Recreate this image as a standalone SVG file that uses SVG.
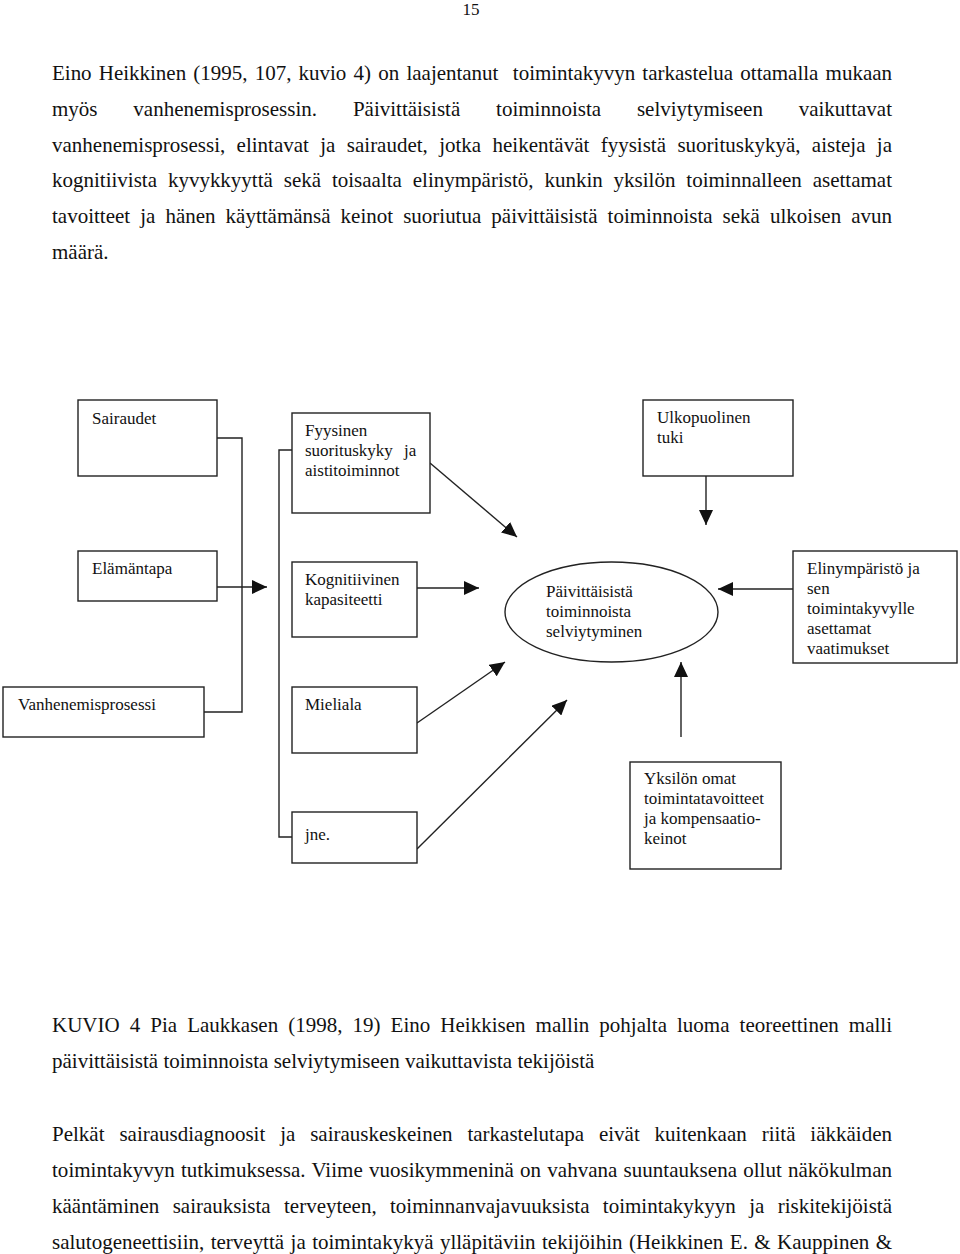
<svg xmlns="http://www.w3.org/2000/svg" width="960" height="1254" viewBox="0 0 960 1254">
<defs>
<style>
.body{font-family:"Liberation Serif","Times New Roman",serif;font-size:21px;fill:#111}
.lbl{font-family:"Liberation Serif","Times New Roman",serif;font-size:17px;fill:#111}
.box{fill:#fff;stroke:#222;stroke-width:1.4}
.ln{fill:none;stroke:#222;stroke-width:1.4}
</style>
<marker id="ah" markerUnits="userSpaceOnUse" markerWidth="15" markerHeight="14" refX="15" refY="7" orient="auto">
<path d="M0,0 L15,7 L0,14 z" fill="#111"/>
</marker>
</defs>
<rect width="960" height="1254" fill="#fff"/>

<text class="body" x="471" y="15" text-anchor="middle" style="font-size:17px">15</text>

<g id="intro">
<text class="body" x="52" y="80" textLength="840" lengthAdjust="spacing" word-spacing="2" xml:space="preserve">Eino Heikkinen (1995, 107, kuvio 4) on laajentanut  toimintakyvyn tarkastelua ottamalla mukaan</text>
<text class="body" x="52" y="116" textLength="840" lengthAdjust="spacing" word-spacing="30.6">myös vanhenemisprosessin. Päivittäisistä toiminnoista selviytymiseen vaikuttavat</text>
<text class="body" x="52" y="152" textLength="840" lengthAdjust="spacing" word-spacing="6.1">vanhenemisprosessi, elintavat ja sairaudet, jotka heikentävät fyysistä suorituskykyä, aisteja ja</text>
<text class="body" x="52" y="187" textLength="840" lengthAdjust="spacing" word-spacing="5.6">kognitiivista kyvykkyyttä sekä toisaalta elinympäristö, kunkin yksilön toiminnalleen asettamat</text>
<text class="body" x="52" y="223" textLength="840" lengthAdjust="spacing" word-spacing="4.8">tavoitteet ja hänen käyttämänsä keinot suoriutua päivittäisistä toiminnoista sekä ulkoisen avun</text>
<text class="body" x="52" y="259">määrä.</text>
</g>

<g id="connectors">
<polyline class="ln" points="217,438 242,438 242,712 204,712"/>
<line class="ln" x1="217" y1="587" x2="267" y2="587" marker-end="url(#ah)"/>
<polyline class="ln" points="292,450 279,450 279,837 292,837"/>
<line class="ln" x1="430" y1="463" x2="517" y2="537" marker-end="url(#ah)"/>
<line class="ln" x1="417" y1="588" x2="479" y2="588" marker-end="url(#ah)"/>
<line class="ln" x1="417" y1="723" x2="505" y2="662" marker-end="url(#ah)"/>
<line class="ln" x1="417" y1="849" x2="567" y2="700" marker-end="url(#ah)"/>
<line class="ln" x1="706" y1="476" x2="706" y2="525" marker-end="url(#ah)"/>
<line class="ln" x1="793" y1="589" x2="718" y2="589" marker-end="url(#ah)"/>
<line class="ln" x1="681" y1="737" x2="681" y2="662" marker-end="url(#ah)"/>
</g>

<g id="sairaudet">
<rect class="box" x="78" y="400" width="139" height="76"/>
<text class="lbl" x="92" y="424">Sairaudet</text>
</g>
<g id="fyysinen">
<rect class="box" x="292" y="413" width="138" height="100"/>
<text class="lbl" x="305" y="436">Fyysinen</text>
<text class="lbl" y="456"><tspan x="305">suorituskyky</tspan><tspan x="404">ja</tspan></text>
<text class="lbl" x="305" y="476">aistitoiminnot</text>
</g>
<g id="ulkopuolinen">
<rect class="box" x="643" y="400" width="150" height="76"/>
<text class="lbl" x="657" y="423">Ulkopuolinen</text>
<text class="lbl" x="657" y="443">tuki</text>
</g>
<g id="elamantapa">
<rect class="box" x="78" y="551" width="139" height="50"/>
<text class="lbl" x="92" y="574">Elämäntapa</text>
</g>
<g id="kognitiivinen">
<rect class="box" x="292" y="562" width="125" height="75"/>
<text class="lbl" x="305" y="585">Kognitiivinen</text>
<text class="lbl" x="305" y="605">kapasiteetti</text>
</g>
<g id="selviytyminen">
<ellipse class="box" cx="611.5" cy="612" rx="106.5" ry="50"/>
<text class="lbl" x="546" y="597">Päivittäisistä</text>
<text class="lbl" x="546" y="617">toiminnoista</text>
<text class="lbl" x="546" y="637">selviytyminen</text>
</g>
<g id="elinymparisto">
<rect class="box" x="793" y="551" width="164" height="112"/>
<text class="lbl" x="807" y="574">Elinympäristö ja</text>
<text class="lbl" x="807" y="594">sen</text>
<text class="lbl" x="807" y="614">toimintakyvylle</text>
<text class="lbl" x="807" y="634">asettamat</text>
<text class="lbl" x="807" y="654">vaatimukset</text>
</g>
<g id="vanhenemisprosessi">
<rect class="box" x="3" y="687" width="201" height="50"/>
<text class="lbl" x="18" y="710">Vanhenemisprosessi</text>
</g>
<g id="mieliala">
<rect class="box" x="292" y="687" width="125" height="66"/>
<text class="lbl" x="305" y="710">Mieliala</text>
</g>
<g id="jne">
<rect class="box" x="292" y="812" width="125" height="51"/>
<text class="lbl" x="305" y="840">jne.</text>
</g>
<g id="yksilon">
<rect class="box" x="630" y="762" width="151" height="107"/>
<text class="lbl" x="644" y="784">Yksilön omat</text>
<text class="lbl" x="644" y="804">toimintatavoitteet</text>
<text class="lbl" x="644" y="824">ja kompensaatio-</text>
<text class="lbl" x="644" y="844">keinot</text>
</g>

<g id="caption">
<text class="body" x="52" y="1032" textLength="840" lengthAdjust="spacing" word-spacing="4.8">KUVIO 4 Pia Laukkasen (1998, 19) Eino Heikkisen mallin pohjalta luoma teoreettinen malli</text>
<text class="body" x="52" y="1068">päivittäisistä toiminnoista selviytymiseen vaikuttavista tekijöistä</text>
</g>

<g id="paragraph">
<text class="body" x="52" y="1141" textLength="840" lengthAdjust="spacing" word-spacing="9.6">Pelkät sairausdiagnoosit ja sairauskeskeinen tarkastelutapa eivät kuitenkaan riitä iäkkäiden</text>
<text class="body" x="52" y="1177" textLength="840" lengthAdjust="spacing" word-spacing="0.9">toimintakyvyn tutkimuksessa. Viime vuosikymmeninä on vahvana suuntauksena ollut näkökulman</text>
<text class="body" x="52" y="1213" textLength="840" lengthAdjust="spacing" word-spacing="8.1">kääntäminen sairauksista terveyteen, toiminnanvajavuuksista toimintakykyyn ja riskitekijöistä</text>
<text class="body" x="52" y="1249" textLength="840" lengthAdjust="spacing" word-spacing="1.2">salutogeneettisiin, terveyttä ja toimintakykyä ylläpitäviin tekijöihin (Heikkinen E. &amp; Kauppinen &amp;</text>
</g>
</svg>
